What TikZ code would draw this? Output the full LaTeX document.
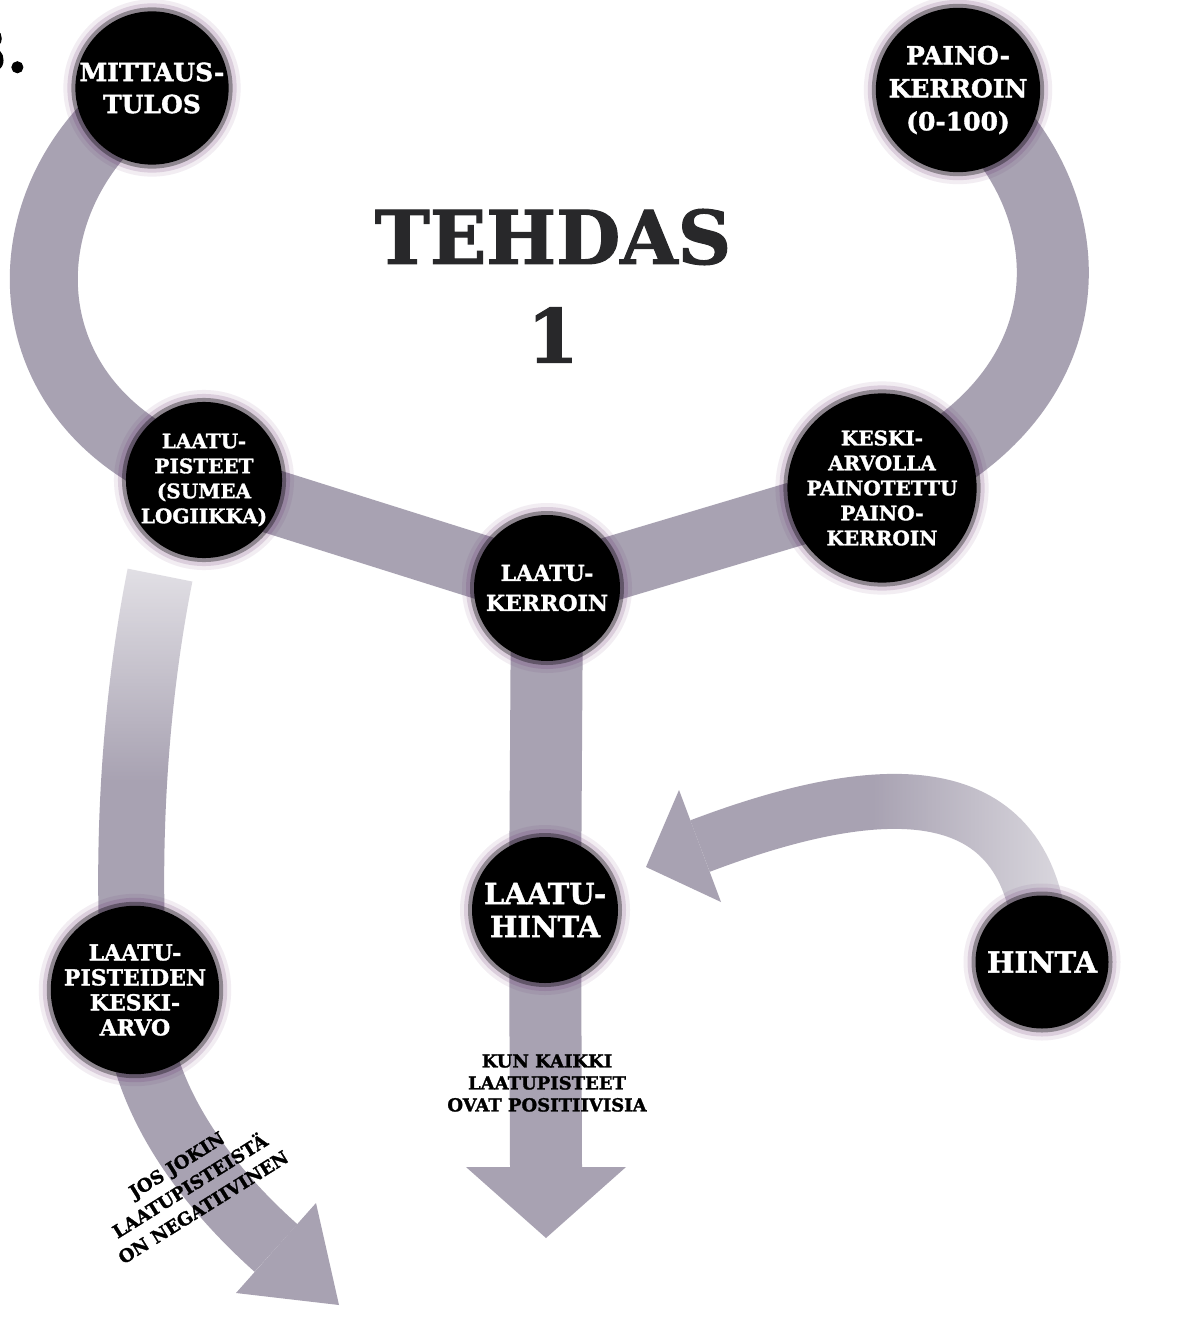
\documentclass[tikz,border=0pt]{standalone}
\usepackage{fontspec}
\setmainfont{DejaVu Serif}[BoldFeatures={FakeBold=1.5}]
\usetikzlibrary{fadings,calc}
\pgfdeclarelayer{back}
\pgfsetlayers{back,main}

\definecolor{bandgrey}{RGB}{168,162,178}
\definecolor{haze}{RGB}{90,30,100}
\definecolor{inkgrey}{RGB}{40,40,42}

% soft ends of the dithered bands
\tikzfading[name=fade top, top color=transparent!75, bottom color=transparent!0, middle color=transparent!0]
\tikzfading[name=fade right, left color=transparent!0, right color=transparent!60, middle color=transparent!0]

\tikzset{
  blob/.style={circle, fill=black, text=white, align=center, inner sep=0pt, minimum size=#1,
    preaction={draw=haze, line width=24pt, draw opacity=0.08},
    preaction={draw=haze, line width=16pt, draw opacity=0.15},
    preaction={draw=black, line width=8pt, draw opacity=0.35}},
  band/.style={draw=bandgrey, line width=#1, line cap=butt},
  head/.style={fill=bandgrey},
  fs/.style 2 args={font=\fontsize{#1}{#2}\selectfont\bfseries},
  heavy/.style={font=\fontsize{74}{80}\selectfont\bfseries\addfontfeature{FakeBold=3}},
}

\begin{document}
\begin{tikzpicture}[x=1pt,y=-1pt]
\useasboundingbox (0,0) rectangle (1180,1321);
\clip (0,0) rectangle (1180,1321);

% stations
\node[blob=142, fs={25}{32}] (mit)    at (152,88)  {MITTAUS-\\TULOS};
\node[blob=155, fs={25}{33}] (paino)  at (958,90)  {PAINO-\\KERROIN\\(0-100)};
\node[blob=150, fs={20}{25}] (lpist)  at (204,480) {LAATU-\\PISTEET\\(SUMEA\\LOGIIKKA)};
\node[blob=148, fs={20}{25}] (keski)  at (882,488) {KESKI-\\ARVOLLA\\PAINOTETTU\\PAINO-\\KERROIN};
\node[blob=146, fs={22}{30}] (lkerr)  at (547,588) {LAATU-\\KERROIN};
\node[blob=146, fs={29}{33}] (lhinta) at (545,910) {LAATU-\\HINTA};
\node[blob=150, fs={22}{25}] (lka)    at (135,990) {LAATU-\\PISTEIDEN\\KESKI-\\ARVO};
\node[blob=133, fs={29}{33}] (hinta)  at (1042,962) {HINTA};

% titles and labels
\node[fs={60}{60}, inner sep=0pt, anchor=base east] (sec) at (28,72) {3.};
\node[heavy, text=inkgrey] (title) at (553,237) {TEHDAS};
\node[heavy, text=inkgrey] (num) at (553,335) {1};

% arrow ends
\coordinate (mbase) at (546,1167);
\coordinate (mtip)  at (546,1238);
\coordinate (lstart) at (160,575);
\coordinate (lbase) at (276,1248);
\coordinate (lc1) at (316,1203);
\coordinate (lc2) at (236,1293);
\coordinate (ltip) at (339,1305);
\coordinate (hbase) at (700,846);
\coordinate (hc1) at (721,902);
\coordinate (hc2) at (679,790);
\coordinate (htip) at (646,867);

\begin{pgfonlayer}{back}
  \fill[white] (0,0) rectangle (1180,1321);
  \draw[band=68] (mit.center) .. controls (0,190) and (0,410) .. (lpist.center);
  \draw[band=72] (paino.center) .. controls (1095,200) and (1095,400) .. (keski.center);
  \draw[band=64] (lpist.center) -- (lkerr.center);
  \draw[band=64] (keski.center) -- (lkerr.center);
  \draw[band=72] (lkerr.center) -- (lhinta.center) -- (mbase);
  \fill[head] ($(mbase)+(-80,0)$) -- ($(mbase)+(80,0)$) -- (mtip) -- cycle;
  \draw[band=66, path fading=fade top] (lstart) .. controls (135,700) and (125,850) .. (lka.center);
  \draw[band=64] (lka.center) .. controls (135,1090) and (200,1180) .. (lbase);
  \fill[head] (lc1) -- (lc2) -- (ltip) -- cycle;
  \draw[band=55, path fading=fade right] (hinta.center) .. controls (1040,780) and (900,770) .. (hbase);
  \fill[head] (hc1) -- (hc2) -- (htip) -- cycle;
\end{pgfonlayer}

\node[fs={18}{22}, align=center] (pos) at (547,1083) {KUN KAIKKI\\LAATUPISTEET\\OVAT POSITIIVISIA};
\node[fs={18}{25}, align=center, rotate=32] (neg) at (190,1186) {JOS JOKIN\\LAATUPISTEISTÄ\\ON NEGATIIVINEN};
\end{tikzpicture}
\end{document}
